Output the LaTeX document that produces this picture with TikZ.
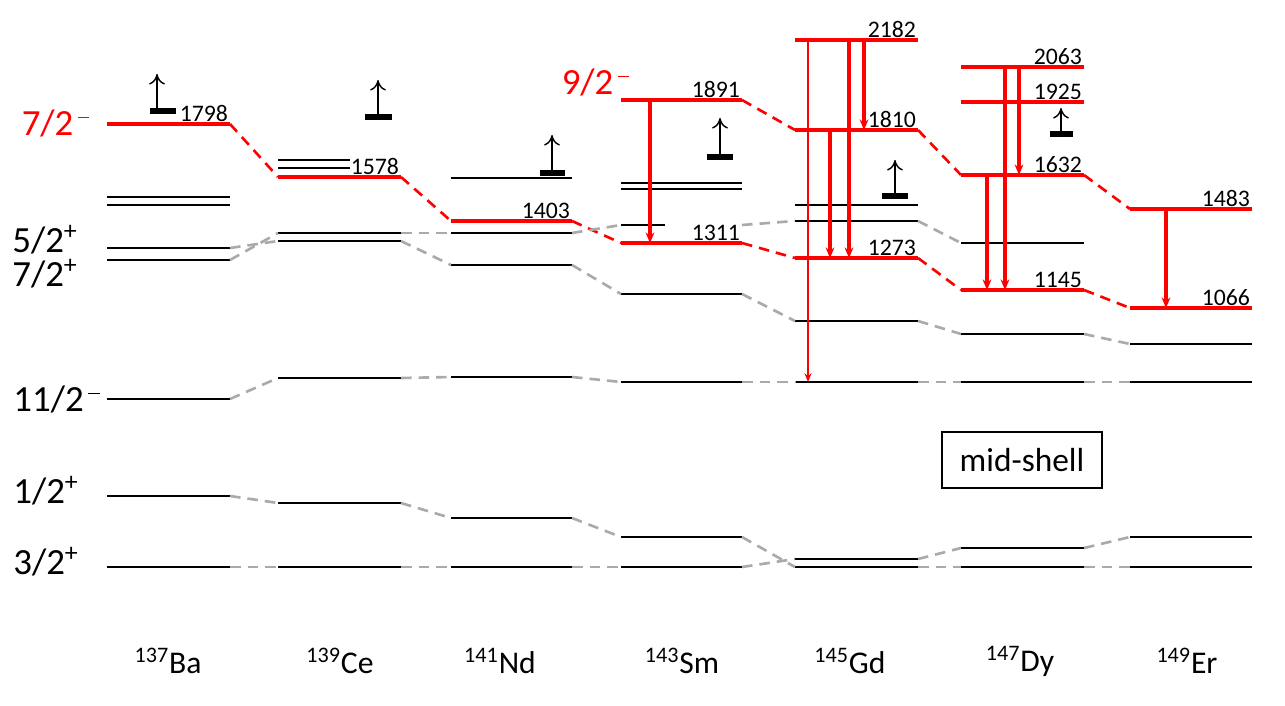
\documentclass[tikz,border=0pt]{standalone}
\usepackage{fontspec}
\setmainfont{Carlito}
\usetikzlibrary{arrows.meta}
\definecolor{rd}{RGB}{255,0,0}
\definecolor{gr}{RGB}{170,170,170}
\tikzset{
  blk/.style={line width=1.6pt,black},
  red/.style={line width=2.8pt,rd},
  bar/.style={line width=3.4pt,black},
  rdash/.style={rd,line width=1.5pt,dash pattern=on 6pt off 4pt},
  gdash/.style={gr,line width=1.5pt,dash pattern=on 6pt off 4pt},
  rarr/.style={rd,line width=2pt,-{Stealth[length=6pt,width=5pt]}},
  uarr/.style={black,line width=0.8pt,-{To[length=6pt,width=9pt]}},
  num/.style={font=\fontsize{13.5}{13.5}\selectfont,anchor=south east,inner sep=1pt},
  jp/.style={font=\fontsize{21}{21}\selectfont,inner sep=0pt},
  iso/.style={font=\fontsize{18}{18}\selectfont,inner sep=0pt}
}
\newcommand{\lev}[5]{\coordinate (#1-l) at (#2,#4);\coordinate (#1-r) at (#3,#4);\draw[#5] (#1-l) -- (#1-r);}
\newcommand{\mn}{\textsuperscript{\,\rule[0.35ex]{0.45em}{0.06ex}}}
\begin{document}
\begin{tikzpicture}[x=0.02cm,y=-0.02cm]
\useasboundingbox (0,0) rectangle (1285,706);
% Ba
\lev{baA}{107}{230}{124}{red}
\lev{baB}{107}{230}{197}{blk}
\lev{baC}{107}{230}{205}{blk}
\lev{baD}{107}{230}{248}{blk}
\lev{baE}{107}{230}{260}{blk}
\lev{baF}{107}{230}{399}{blk}
\lev{baG}{107}{230}{496}{blk}
\lev{baH}{107}{230}{567}{blk}
% Ce
\lev{ceA}{278}{350}{160}{blk}
\lev{ceB}{278}{350}{168}{blk}
\lev{ceC}{278}{401}{177}{red}
\lev{ceD}{278}{401}{233}{blk}
\lev{ceE}{278}{401}{241}{blk}
\lev{ceF}{278}{401}{378}{blk}
\lev{ceG}{278}{401}{503}{blk}
\lev{ceH}{278}{401}{567}{blk}
% Nd
\lev{ndA}{451}{572}{178}{blk}
\lev{ndB}{451}{572}{221}{red}
\lev{ndC}{451}{572}{233}{blk}
\lev{ndD}{451}{572}{265}{blk}
\lev{ndE}{451}{572}{377}{blk}
\lev{ndF}{451}{572}{518}{blk}
\lev{ndG}{451}{572}{567}{blk}
% Sm
\lev{smA}{621}{742}{100}{red}
\lev{smB}{621}{742}{183}{blk}
\lev{smC}{621}{742}{189}{blk}
\lev{smD}{621}{665}{225}{blk}
\coordinate (smD-r) at (742,225);
\lev{smE}{621}{742}{243}{red}
\lev{smF}{621}{742}{294}{blk}
\lev{smG}{621}{742}{382}{blk}
\lev{smH}{621}{742}{537}{blk}
\lev{smI}{621}{742}{567}{blk}
% Gd
\lev{gdA}{795}{918}{40}{red}
\lev{gdB}{795}{918}{130}{red}
\lev{gdC}{795}{918}{205}{blk}
\lev{gdD}{795}{918}{221}{blk}
\lev{gdE}{795}{918}{258}{red}
\lev{gdF}{795}{918}{321}{blk}
\lev{gdG}{795}{918}{382}{blk}
\lev{gdH}{795}{918}{559}{blk}
\lev{gdI}{795}{918}{567}{blk}
% Dy
\lev{dyA}{961}{1084}{67}{red}
\lev{dyB}{961}{1084}{102}{red}
\lev{dyC}{961}{1084}{175}{red}
\lev{dyD}{961}{1084}{243}{blk}
\lev{dyE}{961}{1084}{290}{red}
\lev{dyF}{961}{1084}{334}{blk}
\lev{dyG}{961}{1084}{382}{blk}
\lev{dyH}{961}{1084}{548}{blk}
\lev{dyI}{961}{1084}{567}{blk}
% Er
\lev{erA}{1130}{1252}{209}{red}
\lev{erB}{1130}{1252}{308}{red}
\lev{erC}{1130}{1252}{344}{blk}
\lev{erD}{1130}{1252}{382}{blk}
\lev{erE}{1130}{1252}{537}{blk}
\lev{erF}{1130}{1252}{567}{blk}
% red dashed
\draw[rdash] (baA-r) -- (ceC-l); \draw[rdash] (ceC-r) -- (ndB-l); \draw[rdash] (ndB-r) -- (smE-l);
\draw[rdash] (smA-r) -- (gdB-l); \draw[rdash] (smE-r) -- (gdE-l);
\draw[rdash] (gdB-r) -- (dyC-l); \draw[rdash] (gdE-r) -- (dyE-l);
\draw[rdash] (dyC-r) -- (erA-l); \draw[rdash] (dyE-r) -- (erB-l);
% gray dashed
\draw[gdash] (baD-r) -- (ceE-l); \draw[gdash] (baE-r) -- (ceD-l);
\draw[gdash] (ceD-r) -- (ndC-l); \draw[gdash] (ceE-r) -- (ndD-l);
\draw[gdash] (ndC-r) -- (smD-l); \draw[gdash] (ndD-r) -- (smF-l);
\draw[gdash] (smD-r) -- (gdD-l); \draw[gdash] (smF-r) -- (gdF-l);
\draw[gdash] (gdD-r) -- (dyD-l); \draw[gdash] (gdF-r) -- (dyF-l); \draw[gdash] (dyF-r) -- (erC-l);
\draw[gdash] (baF-r) -- (ceF-l); \draw[gdash] (ceF-r) -- (ndE-l); \draw[gdash] (ndE-r) -- (smG-l);
\draw[gdash] (smG-r) -- (gdG-l); \draw[gdash] (gdG-r) -- (dyG-l); \draw[gdash] (dyG-r) -- (erD-l);
\draw[gdash] (baG-r) -- (ceG-l); \draw[gdash] (ceG-r) -- (ndF-l); \draw[gdash] (ndF-r) -- (smH-l); \draw[gdash] (smH-r) -- (gdI-l);
\draw[gdash] (baH-r) -- (ceH-l); \draw[gdash] (ceH-r) -- (ndG-l); \draw[gdash] (ndG-r) -- (smI-l); \draw[gdash] (smI-r) -- (gdH-l);
\draw[gdash] (gdH-r) -- (dyH-l); \draw[gdash] (dyH-r) -- (erE-l);
\draw[gdash] (gdI-r) -- (dyI-l); \draw[gdash] (dyI-r) -- (erF-l);
% red transitions
\draw[rarr] (650,0 |- smA-l) -- (650,0 |- smE-l);
\draw[rd,line width=1.1pt,-{Stealth[length=5pt,width=4pt]}] (808,0 |- gdA-l) -- (808,0 |- gdG-l);
\draw[rarr] (849,0 |- gdA-l) -- (849,0 |- gdE-l);
\draw[rarr] (864,0 |- gdA-l) -- (864,0 |- gdB-l);
\draw[rarr] (830,0 |- gdB-l) -- (830,0 |- gdE-l);
\draw[rarr] (1019,0 |- dyA-l) -- (1019,0 |- dyC-l);
\draw[rarr] (1005,0 |- dyA-l) -- (1005,0 |- dyE-l);
\draw[rarr] (987,0 |- dyC-l) -- (987,0 |- dyE-l);
\draw[rarr] (1166,0 |- erA-l) -- (1166,0 |- erB-l);
% bars with up arrows
\draw[bar] (150,111) -- (176,111); \draw[uarr] (157,111) -- (157,74);
\draw[bar] (365,117) -- (392,117); \draw[uarr] (378,117) -- (378,80);
\draw[bar] (540,173) -- (565,173); \draw[uarr] (552,173) -- (552,135);
\draw[bar] (707,157) -- (733,157); \draw[uarr] (720,157) -- (720,118);
\draw[bar] (882,196) -- (908,196); \draw[uarr] (895,196) -- (895,160);
\draw[bar] (1050,134) -- (1073,134); \draw[uarr] (1061,134) -- (1061,108);
% numbers
\node[num] (n1) at (baA-r) {1798};
\node[num] (n2) at (ceC-r) {1578};
\node[num] (n3) at (ndB-r) {1403};
\node[num] (n4) at (smA-r) {1891};
\node[num] (n5) at (smE-r) {1311};
\node[num] (n6) at (gdA-r) {2182};
\node[num] (n7) at (gdB-r) {1810};
\node[num] (n8) at (gdE-r) {1273};
\node[num] (n9) at (dyA-r) {2063};
\node[num] (n10) at (dyB-r) {1925};
\node[num] (n11) at (dyC-r) {1632};
\node[num] (n12) at (dyE-r) {1145};
\node[num] (n13) at (erA-r) {1483};
\node[num] (n14) at (erB-r) {1066};
% spin labels
\node[jp,text=rd] (j1) at (56,123) {7/2\mn};
\node[jp,text=rd] (j2) at (596,82) {9/2\mn};
\node[jp] (j3) at (45,240) {5/2\textsuperscript{+}};
\node[jp] (j4) at (45,274) {7/2\textsuperscript{+}};
\node[jp] (j5) at (57,399) {11/2\mn};
\node[jp] (j6) at (46,491) {1/2\textsuperscript{+}};
\node[jp] (j7) at (46,562) {3/2\textsuperscript{+}};
% isotopes
\node[iso] (i1) at (168,661) {\textsuperscript{137}Ba};
\node[iso] (i2) at (340,661) {\textsuperscript{139}Ce};
\node[iso] (i3) at (500,661) {\textsuperscript{141}Nd};
\node[iso] (i4) at (682,661) {\textsuperscript{143}Sm};
\node[iso] (i5) at (850,661) {\textsuperscript{145}Gd};
\node[iso] (i6) at (1020,661) {\textsuperscript{147}Dy};
\node[iso] (i7) at (1187,661) {\textsuperscript{149}Er};
\node[draw,line width=0.8pt,minimum width=3.2cm,minimum height=1.12cm,font=\fontsize{19}{19}\selectfont] (ms) at (1022,460) {mid-shell};
\end{tikzpicture}
\end{document}
